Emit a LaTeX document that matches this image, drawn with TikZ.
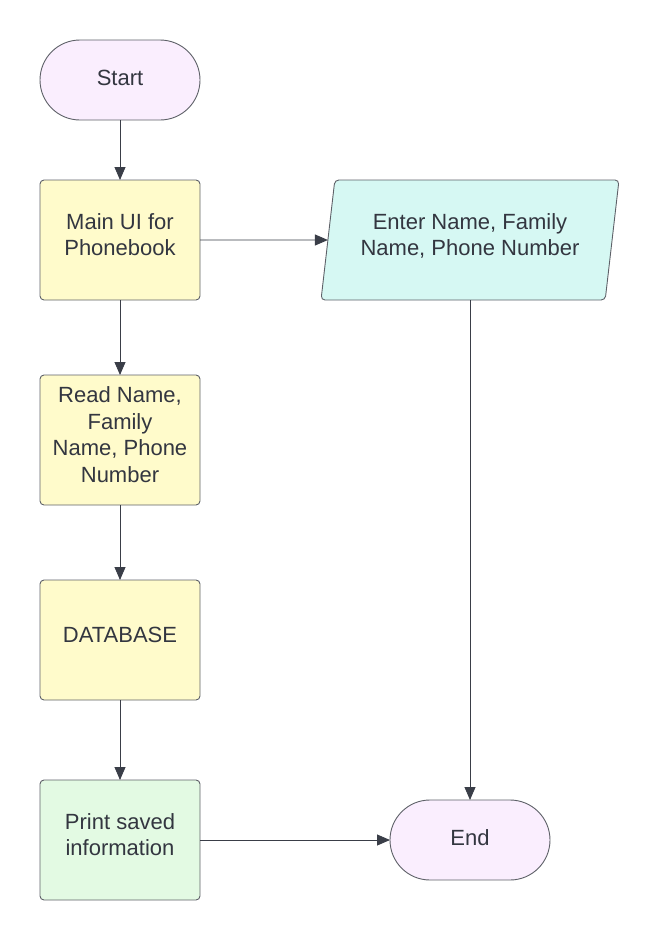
\documentclass[tikz,border=0pt]{standalone}
\usepackage{fontspec}
\setmainfont{Liberation Sans}
\usetikzlibrary{positioning}
\usetikzlibrary{shapes.geometric}
\usetikzlibrary{arrows.meta}

\definecolor{edgegray}{HTML}{5E6168}
\definecolor{arrowgray}{HTML}{3A3E48}
\definecolor{textgray}{HTML}{333640}
\definecolor{lavender}{HTML}{FAEEFE}
\definecolor{paleyellow}{HTML}{FFFBCB}
\definecolor{palecyan}{HTML}{D6F8F3}
\definecolor{palegreen}{HTML}{E3FAE3}

\tikzset{
  box/.style={draw=edgegray, line width=0.9pt, rounded corners=4pt, fill=paleyellow,
    minimum width=160pt, minimum height=120pt, inner sep=0pt, outer sep=0pt, align=center,
    text depth=11pt, text=textgray, font=\fontsize{22}{26.5}\selectfont},
  terminal/.style={box, rounded corners=40pt, fill=lavender, minimum height=80pt, text depth=4pt},
  inout/.style={box, trapezium, trapezium left angle=75.5, trapezium right angle=104.5,
    trapezium stretches body, fill=palecyan, minimum width=298pt},
  flow/.style={draw=arrowgray, line width=0.9pt, -{Triangle[length=13pt,width=11pt]}},
}

\begin{document}
\begin{tikzpicture}[x=1pt, y=-1pt, node distance=60pt]
 \useasboundingbox (0,0) rectangle (660,940);
 \node[terminal,                      name=start]    at (120,80) {Start};
 \node[box, below=60pt of start,      name=mainui]   {Main UI for\\Phonebook};
 \node[inout,                         name=enter]    at (470,240) {Enter Name, Family\\Name, Phone Number};
 \node[box, below=75pt of mainui, minimum height=130pt, name=read] {Read Name,\\Family\\Name, Phone\\Number};
 \node[box, below=75pt of read,       name=database] {DATABASE};
 \node[box, below=80pt of database, fill=palegreen, name=print] {Print saved\\information};
 \node[terminal,                      name=done]     at (470,840) {End};

 \draw[flow] (start)    -- (mainui);
 \draw[flow] (mainui)   -- (enter);
 \draw[flow] (mainui)   -- (read);
 \draw[flow] (read)     -- (database);
 \draw[flow] (database) -- (print);
 \draw[flow] (print)    -- (done);
 \draw[flow] (enter)    -- (done);
\end{tikzpicture}
\end{document}
